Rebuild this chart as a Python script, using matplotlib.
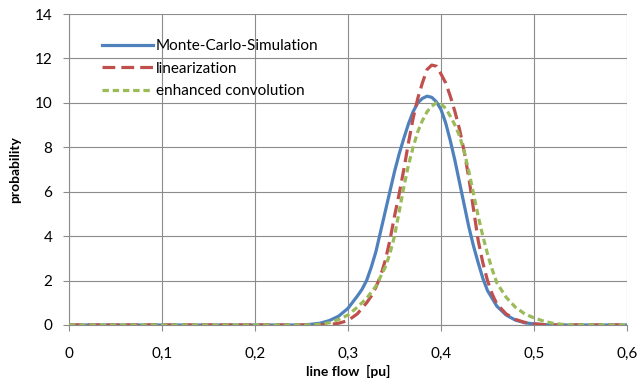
import matplotlib
matplotlib.use("Agg")
import matplotlib.pyplot as plt
from matplotlib.ticker import FuncFormatter

plt.rcParams['font.family'] = ['Lato', 'DejaVu Sans']

# Monte-Carlo-Simulation
mc_x = [0.0, 0.25, 0.26, 0.27, 0.28, 0.29, 0.30, 0.31, 0.315, 0.32, 0.325, 0.33, 0.335,
        0.34, 0.345, 0.35, 0.355, 0.36, 0.365, 0.37, 0.375, 0.38, 0.385, 0.39, 0.395,
        0.40, 0.405, 0.41, 0.415, 0.42, 0.425, 0.43, 0.435, 0.44, 0.445, 0.45,
        0.46, 0.47, 0.48, 0.49, 0.50, 0.51, 0.52, 0.6]
mc_y = [0.0, 0.0, 0.03, 0.08, 0.2, 0.4, 0.75, 1.3, 1.6, 2.0, 2.6, 3.3, 4.2,
        5.1, 6.0, 6.9, 7.7, 8.4, 9.05, 9.6, 10.0, 10.2, 10.3, 10.25, 10.05,
        9.7, 9.1, 8.3, 7.4, 6.4, 5.4, 4.4, 3.55, 2.8, 2.1, 1.55,
        0.85, 0.45, 0.22, 0.1, 0.05, 0.02, 0.0, 0.0]

# linearization
lin_x = [0.0, 0.27, 0.28, 0.29, 0.30, 0.31, 0.32, 0.325, 0.33, 0.335, 0.34, 0.345,
         0.35, 0.355, 0.36, 0.365, 0.37, 0.375, 0.38, 0.385, 0.39, 0.395, 0.40, 0.405,
         0.41, 0.415, 0.42, 0.425, 0.43, 0.435, 0.44, 0.445, 0.45, 0.455,
         0.46, 0.47, 0.48, 0.49, 0.50, 0.51, 0.52, 0.6]
lin_y = [0.0, 0.0, 0.02, 0.08, 0.2, 0.5, 1.0, 1.3, 1.7, 2.2, 2.9, 3.8,
         4.9, 5.9, 7.0, 8.2, 9.3, 10.2, 10.9, 11.5, 11.7, 11.65, 11.3, 10.9,
         10.3, 9.6, 8.8, 7.8, 6.6, 5.2, 3.8, 2.8, 2.0, 1.4,
         0.95, 0.5, 0.25, 0.12, 0.05, 0.02, 0.0, 0.0]

# enhanced convolution
enh_x = [0.0, 0.26, 0.27, 0.28, 0.29, 0.30, 0.31, 0.32, 0.33, 0.34, 0.345, 0.35,
         0.355, 0.36, 0.365, 0.37, 0.375, 0.38, 0.385, 0.39, 0.395, 0.40, 0.405,
         0.41, 0.415, 0.42, 0.425, 0.43, 0.435, 0.44, 0.445, 0.45, 0.455,
         0.46, 0.47, 0.48, 0.49, 0.50, 0.51, 0.52, 0.53, 0.54, 0.6]
enh_y = [0.0, 0.0, 0.03, 0.1, 0.25, 0.45, 0.8, 1.2, 1.75, 2.6, 3.2, 4.0,
         5.1, 6.2, 7.2, 8.0, 8.7, 9.2, 9.6, 9.85, 10.0, 9.95, 9.75,
         9.4, 9.0, 8.5, 7.8, 6.9, 5.9, 4.9, 4.0, 3.2, 2.5,
         1.9, 1.25, 0.8, 0.5, 0.32, 0.18, 0.08, 0.03, 0.0, 0.0]

x_ticks = [0, 0.1, 0.2, 0.3, 0.4, 0.5, 0.6]
y_ticks = [0, 2, 4, 6, 8, 10, 12, 14]

fig = plt.figure(figsize=(6.43, 3.88), dpi=100)
ax = fig.add_axes([69/643, 1-325/388, 558/643, 311/388])

ax.plot(mc_x, mc_y, color='#4F81BD', lw=2.3, label='Monte-Carlo-Simulation', zorder=3)
ax.plot(lin_x, lin_y, color='#C0504D', lw=2.3, dashes=(4, 1.9), label='linearization', zorder=4)
ax.plot(enh_x, enh_y, color='#9BBB59', lw=2.3, dashes=(2, 1.2), label='enhanced convolution', zorder=5)

ax.set_xlim(0, 0.6)
ax.set_ylim(0, 14)
ax.set_xticks(x_ticks)
ax.set_yticks(y_ticks)
ax.xaxis.set_major_formatter(FuncFormatter(lambda v, p: ('%g' % v).replace('.', ',')))
ax.grid(True, color='#8c8c8c', lw=0.8)
ax.set_axisbelow(True)
for s in ['top', 'right']:
    ax.spines[s].set_visible(False)
for s in ['left', 'bottom']:
    ax.spines[s].set_color('#8c8c8c')
ax.tick_params(axis='both', colors='#8c8c8c', labelcolor='black', labelsize=11, length=4)
ax.tick_params(axis='x', pad=12)
ax.tick_params(axis='y', pad=8)

ax.set_xlabel('line flow  [pu]', fontweight='bold', fontsize=10, labelpad=3)
ax.set_ylabel('probability', fontweight='bold', fontsize=10, labelpad=10)

ax.legend(loc='upper left', bbox_to_anchor=(0.035, 0.963), frameon=False, fontsize=11,
          handlelength=3.3, handletextpad=0.2, labelspacing=0.55)

fig.savefig('out.png', dpi=100)
